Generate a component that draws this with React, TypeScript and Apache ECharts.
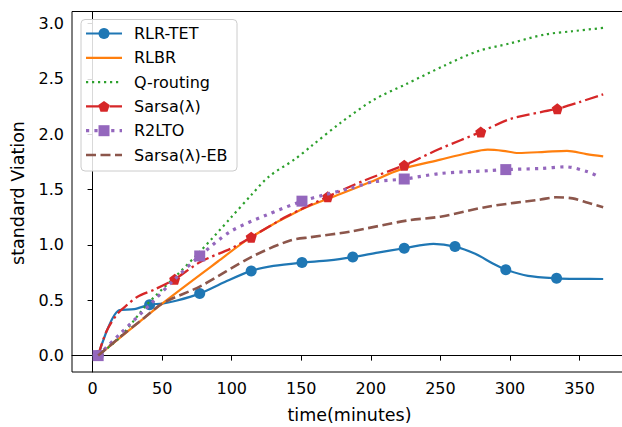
import React, { useEffect, useRef } from "react";
import * as echarts from "echarts";

const xTicks = [0, 50, 100, 150, 200, 250, 300, 350];
const yTicks = [0, 0.5, 1.0, 1.5, 2.0, 2.5, 3.0];

const seriesNames = ["RLR-TET", "RLBR", "Q-routing", "Sarsa(λ)", "R2LTO", "Sarsa(λ)-EB"];

const rlrTetX = [4, 19, 30, 41, 50, 60, 77, 95, 114, 130, 150.5, 170, 187, 205, 224, 245, 260.5, 275, 288, 297, 313, 333.5, 350, 367];
const rlrTetY = [0, 0.41, 0.42, 0.46, 0.47, 0.495, 0.56, 0.665, 0.765, 0.81, 0.84, 0.86, 0.89, 0.93, 0.97, 1.01, 0.985, 0.92, 0.83, 0.776, 0.72, 0.698, 0.693, 0.692];
const rlrTetMarks = [4, 41, 77, 114, 150.5, 187, 224, 260.5, 297, 333.5];

const rlbrX = [4, 50, 90, 114, 150, 178, 200, 221, 250, 270, 284, 295, 306, 325, 341, 355, 367];
const rlbrY = [0, 0.47, 0.85, 1.07, 1.32, 1.46, 1.57, 1.68, 1.77, 1.83, 1.86, 1.85, 1.83, 1.84, 1.85, 1.82, 1.8];

const qX = [4, 20, 39, 60, 78, 99, 114, 127, 145, 157, 178, 202, 225, 253, 277, 300, 325, 345, 367];
const qY = [0, 0.17, 0.46, 0.72, 0.95, 1.24, 1.45, 1.62, 1.77, 1.89, 2.1, 2.31, 2.45, 2.62, 2.75, 2.82, 2.9, 2.93, 2.96];

const sarsaX = [4, 10, 18, 25, 32, 45, 59, 78, 100, 114, 140, 169, 195, 224, 250, 279, 301, 334, 350, 367];
const sarsaY = [0, 0.22, 0.38, 0.46, 0.53, 0.6, 0.69, 0.85, 0.97, 1.07, 1.26, 1.435, 1.58, 1.72, 1.87, 2.02, 2.14, 2.23, 2.29, 2.36];
const sarsaMarks = [4, 59, 114, 169, 224, 279, 334];

const r2ltoX = [4, 20, 42, 59, 77, 99, 125, 150.5, 166, 185, 202, 224, 250, 284, 297, 322, 340, 356, 364];
const r2ltoY = [0, 0.2, 0.47, 0.69, 0.9, 1.12, 1.27, 1.395, 1.45, 1.51, 1.57, 1.595, 1.645, 1.67, 1.68, 1.69, 1.705, 1.66, 1.615];
const r2ltoMarks = [4, 77, 150.5, 224, 297];

const ebX = [4, 20, 37, 50, 78, 114, 142, 157, 185, 226, 250, 284, 322, 333, 345, 356, 367];
const ebY = [0, 0.17, 0.34, 0.47, 0.63, 0.89, 1.04, 1.07, 1.12, 1.22, 1.255, 1.345, 1.41, 1.43, 1.42, 1.38, 1.34];

const FONT = "DejaVu Sans";
const PENTAGON = "path://M0,-1L0.951,-0.309L0.588,0.809L-0.588,0.809L-0.951,-0.309Z";

type Def = {
  name: string;
  xs: number[];
  ys: number[];
  marks: number[];
  color: string;
  width: number;
  dash: number[] | null;
  symbol: string;
  legendSymbol: string;
};

const defs: Def[] = [
  { name: seriesNames[0], xs: rlrTetX, ys: rlrTetY, marks: rlrTetMarks, color: "#1f77b4", width: 2.2, dash: null, symbol: "circle", legendSymbol: "circle" },
  { name: seriesNames[1], xs: rlbrX, ys: rlbrY, marks: [], color: "#ff7f0e", width: 2.2, dash: null, symbol: "none", legendSymbol: "none" },
  { name: seriesNames[2], xs: qX, ys: qY, marks: [], color: "#2ca02c", width: 2.2, dash: [2.2, 3.8], symbol: "none", legendSymbol: "none" },
  { name: seriesNames[3], xs: sarsaX, ys: sarsaY, marks: sarsaMarks, color: "#d62728", width: 2.3, dash: [13, 4, 2.5, 4], symbol: PENTAGON, legendSymbol: "pentagon" },
  { name: seriesNames[4], xs: r2ltoX, ys: r2ltoY, marks: r2ltoMarks, color: "#9467bd", width: 3.2, dash: [3.2, 5.2], symbol: "rect", legendSymbol: "square" },
  { name: seriesNames[5], xs: ebX, ys: ebY, marks: [], color: "#8c564b", width: 2.6, dash: [10, 4.5], symbol: "none", legendSymbol: "none" },
];

function pentagonPoints(cx: number, cy: number, r: number): number[][] {
  const pts: number[][] = [];
  for (let k = 0; k < 5; k++) {
    const a = -Math.PI / 2 + (k * 2 * Math.PI) / 5;
    pts.push([cx + r * Math.cos(a), cy + r * Math.sin(a)]);
  }
  return pts;
}

export default function App() {
  const ref = useRef<HTMLDivElement>(null);
  useEffect(() => {
    const chart = echarts.init(ref.current!, null, { renderer: "svg" });

    const series = defs.map((d, i) => ({
      type: "line",
      name: d.name,
      z: 2 + i,
      smooth: 0.3,
      showSymbol: true,
      showAllSymbol: true,
      symbolSize: 11,
      lineStyle: { color: d.color, width: d.width, type: d.dash ? d.dash : "solid", cap: "butt" },
      itemStyle: { color: d.color, borderWidth: 0 },
      data: d.xs.map((x, j) => ({
        value: [x, d.ys[j]],
        symbol: d.marks.includes(x) ? d.symbol : "none",
      })),
    }));

    // legend drawn with graphic
    const lg: any[] = [];
    lg.push({
      type: "rect",
      z: 100,
      shape: { x: 81, y: 19.5, width: 156, height: 151.5, r: 4 },
      style: { fill: "rgba(255,255,255,0.85)", stroke: "#cccccc", lineWidth: 1 },
    });
    defs.forEach((d, i) => {
      const cy = 33.5 + i * 24.3;
      lg.push({
        type: "line",
        z: 101,
        shape: { x1: 86, y1: cy, x2: 122, y2: cy },
        style: { stroke: d.color, lineWidth: d.width, lineDash: d.dash ? d.dash : null },
      });
      if (d.legendSymbol === "circle") {
        lg.push({ type: "circle", z: 102, shape: { cx: 104, cy, r: 5.5 }, style: { fill: d.color } });
      } else if (d.legendSymbol === "pentagon") {
        lg.push({ type: "polygon", z: 102, shape: { points: pentagonPoints(104, cy + 0.5, 6) }, style: { fill: d.color } });
      } else if (d.legendSymbol === "square") {
        lg.push({ type: "rect", z: 102, shape: { x: 98.5, y: cy - 5.5, width: 11, height: 11 }, style: { fill: d.color } });
      }
      lg.push({
        type: "text",
        z: 102,
        x: 134,
        y: cy,
        style: { text: d.name, font: `16px '${FONT}'`, fill: "#000", verticalAlign: "middle", align: "left" },
      });
    });
    lg.push({
      type: "text",
      z: 102,
      x: 349.5,
      y: 415,
      style: { text: "time(minutes)", font: `17.5px '${FONT}'`, fill: "#000", verticalAlign: "middle", align: "center" },
    });
    lg.push({
      type: "text",
      z: 102,
      x: 17.5,
      y: 193,
      rotation: Math.PI / 2,
      style: { text: "standard Viation", font: `17.5px '${FONT}'`, fill: "#000", verticalAlign: "middle", align: "center" },
    });

    const option: any = {
      animation: false,
      backgroundColor: "#ffffff",
      grid: {
        left: 72,
        top: 11.5,
        width: 557.2,
        height: 360.5,
        outerBoundsMode: "none",
        containLabel: false,
        show: true,
        borderColor: "#000",
        borderWidth: 1,
        backgroundColor: "transparent",
      },
      xAxis: {
        type: "value",
        min: -14.8,
        max: 385.7,
        splitLine: { show: false },
        axisLine: { show: true, lineStyle: { color: "#000", width: 1 } },
        axisTick: { show: true, inside: false, length: 5, lineStyle: { color: "#000", width: 1 }, customValues: xTicks },
        axisLabel: {
          customValues: xTicks,
          color: "#000",
          fontFamily: FONT,
          fontSize: 16,
          margin: 8,
          formatter: (v: number) => String(v),
        },
      },
      yAxis: {
        type: "value",
        min: -0.148,
        max: 3.108,
        splitLine: { show: false },
        axisLine: { show: true, lineStyle: { color: "#000", width: 1 } },
        axisTick: { show: true, inside: false, length: 5, lineStyle: { color: "#000", width: 1 }, customValues: yTicks },
        axisLabel: {
          customValues: yTicks,
          color: "#000",
          fontFamily: FONT,
          fontSize: 16,
          margin: 8,
          formatter: (v: number) => v.toFixed(1),
        },
      },
      series,
      graphic: { elements: lg },
    };
    chart.setOption(option);
    return () => chart.dispose();
  }, []);
  return (
    <div
      ref={ref}
      style={{ position: "fixed", left: 0, top: 0, width: 622, height: 427, background: "#fff" }}
    />
  );
}
